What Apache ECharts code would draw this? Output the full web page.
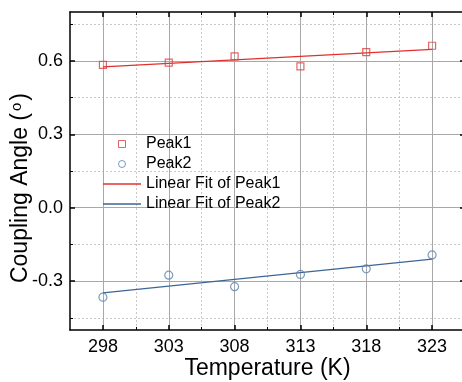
<!DOCTYPE html>
<html><head><meta charset="utf-8">
<script src="https://cdn.jsdelivr.net/npm/echarts@6/dist/echarts.min.js"></script>
<style>html,body{margin:0;padding:0;background:#fff}#c{width:462px;height:382px}</style>
</head><body><div id="c"></div>
<script>
const temps = [298, 303, 308, 313, 318, 323];
const peak1 = [0.584, 0.593, 0.619, 0.578, 0.636, 0.662];
const peak2 = [-0.366, -0.276, -0.323, -0.273, -0.250, -0.193];
const fitX = [298, 323];
const fit1 = [0.576, 0.647];
const fit2 = [-0.348, -0.210];
const xMajor = [298, 303, 308, 313, 318, 323];
const xMinor = [300.5, 305.5, 310.5, 315.5, 320.5];
const yMajor = [-0.3, 0, 0.3, 0.6];
const yMinor = [-0.45, -0.15, 0.15, 0.45, 0.75];
const xRange = [295.5, 325.5];
const yRange = [-0.5, 0.8];

const FONT = 'Liberation Sans, Arial, sans-serif';
const pair = (xs, ys) => xs.map((x, i) => [x, ys[i]]);
const axisBlack = {show: true, onZero: false, lineStyle: {color: '#000', width: 1.5}};
const noLine = {show: false, onZero: false};
const hidden = {show: false};

function xAx(opts) {
  return Object.assign({type: 'value', min: xRange[0], max: xRange[1], axisLine: noLine, axisTick: hidden, axisLabel: hidden, splitLine: hidden}, opts);
}
function yAx(opts) {
  return Object.assign({type: 'value', min: yRange[0], max: yRange[1], axisLine: noLine, axisTick: hidden, axisLabel: hidden, splitLine: hidden}, opts);
}

const chart = echarts.init(document.getElementById('c'));
chart.setOption({
  animation: false,
  textStyle: {fontFamily: FONT},
  grid: {left: 70, top: 12, right: -3, bottom: 52, containLabel: false, outerBoundsMode: 'none'},
  xAxis: [
    xAx({position: 'bottom', axisLine: axisBlack,
      axisTick: {show: true, inside: true, length: 5, lineStyle: {color: '#000', width: 1.5}, customValues: xMajor},
      axisLabel: {show: true, customValues: xMajor, fontSize: 18, color: '#000', margin: 8, fontFamily: FONT},
      splitLine: {show: true, lineStyle: {color: '#a8a8a8', width: 1}},
      name: 'Temperature (K)', nameLocation: 'middle', nameGap: 27, nameMoveOverlap: false,
      nameTextStyle: {fontSize: 23, color: '#000', fontFamily: FONT}}),
    xAx({position: 'bottom',
      axisTick: {show: true, inside: true, length: 3, lineStyle: {color: '#000', width: 1}, customValues: xMinor},
      splitLine: {show: true, lineStyle: {color: '#c8c8c8', width: 1, type: [2, 2]}}}),
    xAx({position: 'top', axisLine: axisBlack,
      axisTick: {show: true, inside: true, length: 5, lineStyle: {color: '#000', width: 1.5}, customValues: xMajor}}),
    xAx({position: 'top',
      axisTick: {show: true, inside: true, length: 3, lineStyle: {color: '#000', width: 1}, customValues: xMinor}})
  ],
  yAxis: [
    yAx({position: 'left', axisLine: axisBlack,
      axisTick: {show: true, inside: true, length: 5, lineStyle: {color: '#000', width: 1.5}, customValues: yMajor},
      axisLabel: {show: true, customValues: yMajor, fontSize: 18, color: '#000', margin: 7, fontFamily: FONT,
        formatter: v => v.toFixed(1)},
      splitLine: {show: true, lineStyle: {color: '#a8a8a8', width: 1}},
      name: '{a|Coupling Angle (}{s|o}{a|)}', nameLocation: 'middle', nameGap: 38, nameRotate: 90, nameMoveOverlap: false,
      nameTextStyle: {fontSize: 23, color: '#000', fontFamily: FONT, padding: [0, 34, 0, 0],
        rich: {a: {fontSize: 23, color: '#000', fontFamily: FONT}, s: {fontSize: 15, color: '#000', fontFamily: FONT, verticalAlign: 'top', padding: [0, 2, 8, 2]}}}}),
    yAx({position: 'left',
      axisTick: {show: true, inside: true, length: 3, lineStyle: {color: '#000', width: 1}, customValues: yMinor},
      splitLine: {show: true, lineStyle: {color: '#c8c8c8', width: 1, type: [2, 2]}}}),
    yAx({position: 'right', axisLine: axisBlack,
      axisTick: {show: true, inside: true, length: 5, lineStyle: {color: '#000', width: 1.5}, customValues: yMajor}})
  ],
  legend: {
    orient: 'vertical', left: 103, top: 136, padding: 0, itemWidth: 38, itemHeight: 7, itemGap: 4,
    symbolKeepAspect: true,
    textStyle: {fontSize: 16, color: '#000', fontFamily: FONT, lineHeight: 16},
    data: [
      {name: 'Peak1', icon: 'path://M0,0H10V10H0Z', itemStyle: {borderWidth: 1}},
      {name: 'Peak2', icon: 'circle', itemStyle: {borderWidth: 1}},
      {name: 'Linear Fit of Peak1', icon: 'path://M0,0H38V1.4H0Z', itemStyle: {color: '#e0302d', borderWidth: 0}},
      {name: 'Linear Fit of Peak2', icon: 'path://M0,0H38V1.4H0Z', itemStyle: {color: '#3b6694', borderWidth: 0}}
    ]
  },
  series: [
    {name: 'Linear Fit of Peak1', type: 'line', data: pair(fitX, fit1), symbol: 'none', z: 2,
      lineStyle: {color: '#e0302d', width: 1.2}, itemStyle: {color: '#e0302d'}},
    {name: 'Linear Fit of Peak2', type: 'line', data: pair(fitX, fit2), symbol: 'none', z: 2,
      lineStyle: {color: '#3b6694', width: 1.2}, itemStyle: {color: '#3b6694'}},
    {name: 'Peak1', type: 'scatter', data: pair(temps, peak1), symbol: 'rect', symbolSize: 7, z: 3,
      itemStyle: {color: 'rgba(255,255,255,0)', borderColor: '#d9413f', borderWidth: 1.2}},
    {name: 'Peak2', type: 'scatter', data: pair(temps, peak2), symbol: 'circle', symbolSize: 8, z: 3,
      itemStyle: {color: 'rgba(255,255,255,0)', borderColor: '#5b82b0', borderWidth: 1.2}}
  ]
});
</script></body></html>
